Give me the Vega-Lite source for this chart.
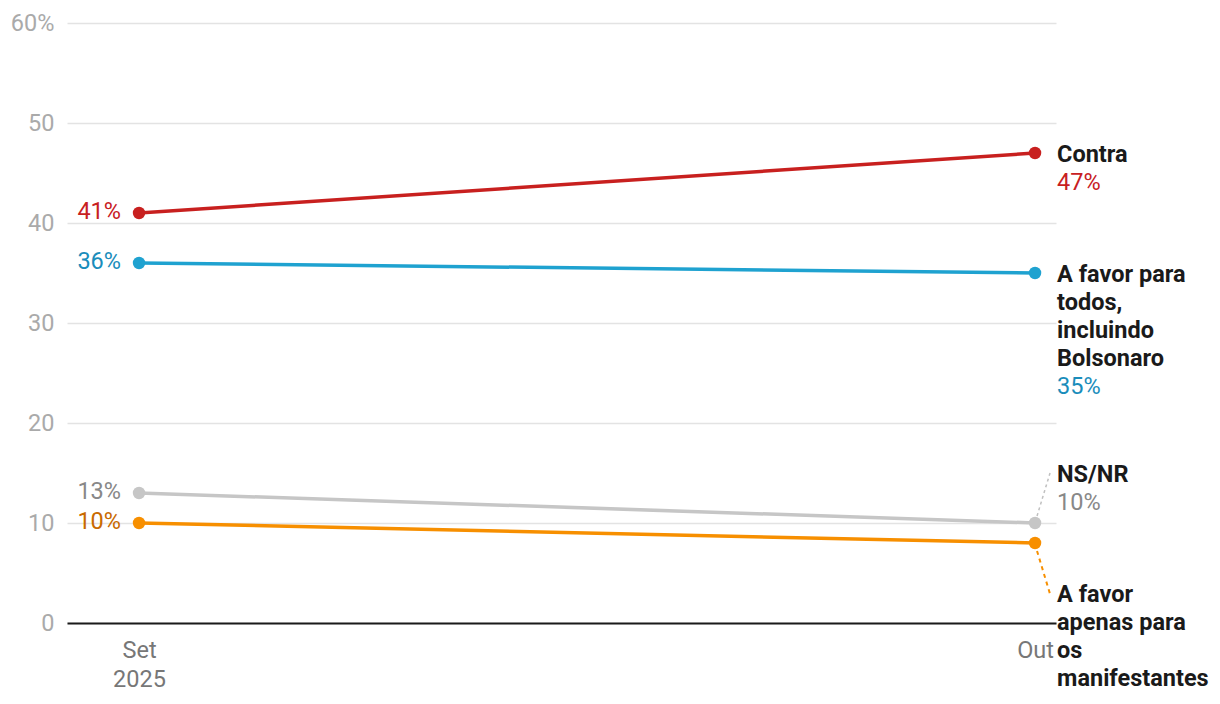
{
  "$schema": "https://vega.github.io/schema/vega-lite/v6.json",
  "width": 989,
  "height": 600,
  "autosize": {"type": "none"},
  "padding": {"left": 67, "top": 23, "right": 164, "bottom": 81},
  "config": {"view": {"stroke": null}, "font": "Roboto", "text": {"font": "Roboto"}},
  "data": {
    "values": [
      {"series": "Contra", "name": "Contra", "idx": 0, "value": 41, "label": "41%"},
      {"series": "Contra", "name": "Contra", "idx": 1, "value": 47, "label": "47%"},
      {"series": "Todos", "name": "A favor para\ntodos,\nincluindo\nBolsonaro", "idx": 0, "value": 36, "label": "36%"},
      {"series": "Todos", "name": "A favor para\ntodos,\nincluindo\nBolsonaro", "idx": 1, "value": 35, "label": "35%"},
      {"series": "NS/NR", "name": "NS/NR", "idx": 0, "value": 13, "label": "13%"},
      {"series": "NS/NR", "name": "NS/NR", "idx": 1, "value": 10, "label": "10%"},
      {"series": "Apenas", "name": "A favor\napenas para\nos\nmanifestantes", "idx": 0, "value": 10, "label": "10%"},
      {"series": "Apenas", "name": "A favor\napenas para\nos\nmanifestantes", "idx": 1, "value": 8, "label": "8%"}
    ]
  },
  "encoding": {
    "x": {
      "field": "idx", "type": "quantitative",
      "scale": {"domain": [-0.0804, 1.0234], "nice": false, "zero": false},
      "axis": {
        "values": [0, 1],
        "labelExpr": "datum.value == 0 ? ['Set', '2025'] : 'Out'",
        "labelFontSize": 23.5, "labelColor": "#777777", "labelPadding": 15, "labelLineHeight": 29,
        "labelFlush": false, "labelAlign": "center", "labelFont": "Roboto",
        "ticks": false, "grid": false, "domain": true, "domainColor": "#1a1a1a", "domainWidth": 2,
        "title": null
      }
    },
    "y": {
      "field": "value", "type": "quantitative",
      "scale": {"domain": [0, 60], "nice": false},
      "axis": {
        "values": [0, 10, 20, 30, 40, 50, 60],
        "labelExpr": "datum.value == 60 ? '60%' : datum.label",
        "labelFontSize": 23.5, "labelColor": "#aaaaaa", "labelPadding": 13, "labelFont": "Roboto",
        "labelFlush": false, "ticks": false, "domain": false,
        "grid": true, "gridColor": "#e3e3e3", "gridWidth": 1.5,
        "title": null
      }
    }
  },
  "layer": [
    {
      "mark": {"type": "line", "strokeWidth": 3.5},
      "encoding": {
        "color": {"field": "series", "type": "nominal", "legend": null,
          "scale": {"domain": ["Contra", "Todos", "NS/NR", "Apenas"], "range": ["#c8201f", "#1fa2d0", "#c6c6c6", "#f78f00"]}}
      }
    },
    {
      "mark": {"type": "point", "filled": true, "size": 155, "opacity": 1},
      "encoding": {
        "color": {"field": "series", "type": "nominal", "legend": null,
          "scale": {"domain": ["Contra", "Todos", "NS/NR", "Apenas"], "range": ["#c8201f", "#1fa2d0", "#c6c6c6", "#f78f00"]}}
      }
    },
    {
      "transform": [{"filter": "datum.idx == 0"}],
      "mark": {"type": "text", "align": "right", "baseline": "middle", "dx": -18, "dy": -1, "fontSize": 23.5},
      "encoding": {
        "text": {"field": "label"},
        "color": {"field": "series", "type": "nominal", "legend": null,
          "scale": {"domain": ["Contra", "Todos", "NS/NR", "Apenas"], "range": ["#c8201f", "#1a8dbb", "#888888", "#c96a00"]}}
      }
    },
    {
      "transform": [{"filter": "datum.idx == 1 && datum.series == 'NS/NR'"}],
      "mark": {"type": "rule", "strokeDash": [3, 3], "strokeWidth": 1.5, "color": "#c0c0c0", "xOffset": 2, "yOffset": -7, "x2Offset": 15, "y2Offset": -50},
      "encoding": {"x2": {"field": "idx"}, "y2": {"field": "value"}}
    },
    {
      "transform": [{"filter": "datum.idx == 1 && datum.series == 'Apenas'"}],
      "mark": {"type": "rule", "strokeDash": [4, 4], "strokeWidth": 2, "color": "#f78f00", "xOffset": 2, "yOffset": 8, "x2Offset": 15, "y2Offset": 51},
      "encoding": {"x2": {"field": "idx"}, "y2": {"field": "value"}}
    },
    {
      "transform": [{"filter": "datum.idx == 1 && (datum.series == 'Contra' || datum.series == 'Todos')"}],
      "mark": {"type": "text", "align": "left", "baseline": "top", "dx": 22, "dy": -10, "fontSize": 23.5, "fontWeight": "bold", "lineBreak": "\n", "lineHeight": 28, "color": "#1a1a1a"},
      "encoding": {"text": {"field": "name"}}
    },
    {
      "transform": [{"filter": "datum.idx == 1 && datum.series == 'NS/NR'"}],
      "mark": {"type": "text", "align": "left", "baseline": "top", "dx": 22, "dy": -60, "fontSize": 23.5, "fontWeight": "bold", "lineBreak": "\n", "lineHeight": 28, "color": "#1a1a1a"},
      "encoding": {"text": {"field": "name"}}
    },
    {
      "transform": [{"filter": "datum.idx == 1 && datum.series == 'Apenas'"}],
      "mark": {"type": "text", "align": "left", "baseline": "top", "dx": 22, "dy": 40, "fontSize": 23.5, "fontWeight": "bold", "lineBreak": "\n", "lineHeight": 28, "color": "#1a1a1a"},
      "encoding": {"text": {"field": "name"}}
    },
    {
      "transform": [{"filter": "datum.idx == 1 && datum.series == 'Contra'"}],
      "mark": {"type": "text", "align": "left", "baseline": "top", "dx": 22, "dy": 18, "fontSize": 23.5},
      "encoding": {
        "text": {"field": "label"},
        "color": {"field": "series", "type": "nominal", "legend": null,
          "scale": {"domain": ["Contra", "Todos", "NS/NR", "Apenas"], "range": ["#c8201f", "#1a8dbb", "#888888", "#c96a00"]}}
      }
    },
    {
      "transform": [{"filter": "datum.idx == 1 && datum.series == 'Todos'"}],
      "mark": {"type": "text", "align": "left", "baseline": "top", "dx": 22, "dy": 102, "fontSize": 23.5},
      "encoding": {
        "text": {"field": "label"},
        "color": {"field": "series", "type": "nominal", "legend": null,
          "scale": {"domain": ["Contra", "Todos", "NS/NR", "Apenas"], "range": ["#c8201f", "#1a8dbb", "#888888", "#c96a00"]}}
      }
    },
    {
      "transform": [{"filter": "datum.idx == 1 && datum.series == 'NS/NR'"}],
      "mark": {"type": "text", "align": "left", "baseline": "top", "dx": 22, "dy": -32, "fontSize": 23.5},
      "encoding": {
        "text": {"field": "label"},
        "color": {"field": "series", "type": "nominal", "legend": null,
          "scale": {"domain": ["Contra", "Todos", "NS/NR", "Apenas"], "range": ["#c8201f", "#1a8dbb", "#888888", "#c96a00"]}}
      }
    }
  ],
  "resolve": {"scale": {"color": "independent"}}
}
